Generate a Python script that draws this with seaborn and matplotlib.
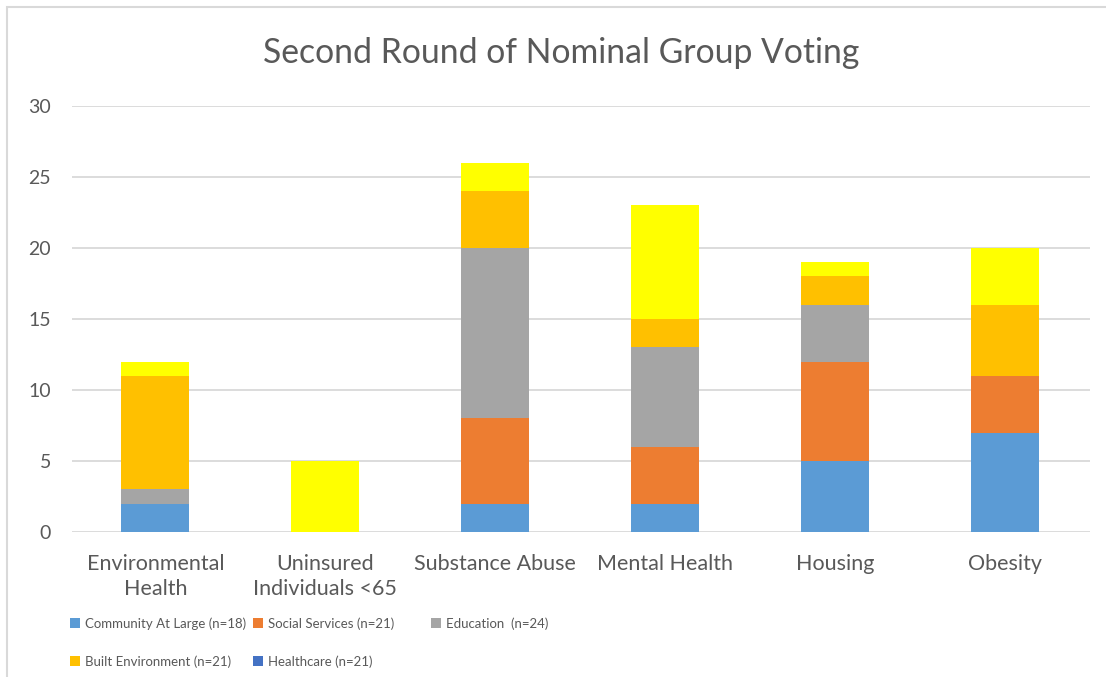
import matplotlib
matplotlib.use("Agg")
import matplotlib.pyplot as plt
from matplotlib.patches import Patch, Rectangle
import numpy as np
import pandas as pd
import seaborn as sns

# Priority areas and votes per stakeholder group
categories = ["Environmental\nHealth", "Uninsured\nIndividuals <65", "Substance Abuse",
              "Mental Health", "Housing", "Obesity"]
community_at_large = [2, 0, 2, 2, 5, 7]
social_services = [0, 0, 6, 4, 7, 4]
education = [1, 0, 12, 7, 4, 0]
built_environment = [8, 0, 4, 2, 2, 5]
healthcare = [1, 5, 2, 8, 1, 4]

series_names = ["Community At Large (n=18)", "Social Services (n=21)", "Education  (n=24)",
                "Built Environment (n=21)", "Healthcare (n=21)"]
series_values = [community_at_large, social_services, education, built_environment, healthcare]
bar_colors = ["#5B9BD5", "#ED7D31", "#A5A5A5", "#FFC000", "#FFFF00"]
legend_colors = ["#5B9BD5", "#ED7D31", "#A5A5A5", "#FFC000", "#4472C4"]

sns.set_theme(style="white")
plt.rcParams["font.family"] = ["Lato", "DejaVu Sans"]

fig = plt.figure(figsize=(11.06, 6.77), dpi=100)
ax = fig.add_axes([0.0651, 0.2142, 0.9204, 0.6292])

# stacked bars: draw cumulative totals from the top series down
cum = np.cumsum(np.array(series_values, dtype=float), axis=0)
for i in range(len(series_names) - 1, -1, -1):
    df = pd.DataFrame({"category": categories, "value": cum[i]})
    sns.barplot(data=df, x="category", y="value", color=bar_colors[i], width=0.4,
                saturation=1, ax=ax, edgecolor="none", linewidth=0, zorder=3)

ax.set_ylim(0, 30)
ax.set_xlim(-0.49, 5.5)
ax.set_yticks(range(0, 31, 5))
ax.yaxis.grid(True, color="#D9D9D9", linewidth=1.3, zorder=0)
ax.set_axisbelow(True)
for s in ax.spines.values():
    s.set_visible(False)
ax.set_xlabel("")
ax.set_ylabel("")
ax.tick_params(axis="y", length=0, pad=15, labelsize=14, labelcolor="#595959")
ax.tick_params(axis="x", length=0, pad=16, labelsize=15.5, labelcolor="#595959")
for t in ax.get_xticklabels():
    t.set_linespacing(1.28)
    t.set_verticalalignment("top")

fig.text(0.507, 0.921, "Second Round of Nominal Group Voting", ha="center", va="center",
         fontsize=24.3, color="#595959")

# legend laid out in three fixed columns, filled row by row
columns = [[0, 3], [1, 4], [2]]
col_x = [70 / 1106, 253 / 1106, 431 / 1106]
for idx, xpos in zip(columns, col_x):
    handles = [Patch(facecolor=legend_colors[i], edgecolor="none", label=series_names[i]) for i in idx]
    fig.legend(handles=handles, loc="upper left", bbox_to_anchor=(xpos, 1 - 617 / 677),
               ncol=1, frameon=False, fontsize=9.5, handlelength=0.75, handleheight=0.75,
               handletextpad=0.4, labelspacing=1.95, borderpad=0, borderaxespad=0,
               labelcolor="#595959")

# chart frame
fig.patches.append(Rectangle((7 / 1106, -0.1), 1.2, 1 - 7 / 677 + 0.1, transform=fig.transFigure,
                             fill=False, edgecolor="#D9D9D9", linewidth=1.5))

fig.savefig("out.png", dpi=100)
